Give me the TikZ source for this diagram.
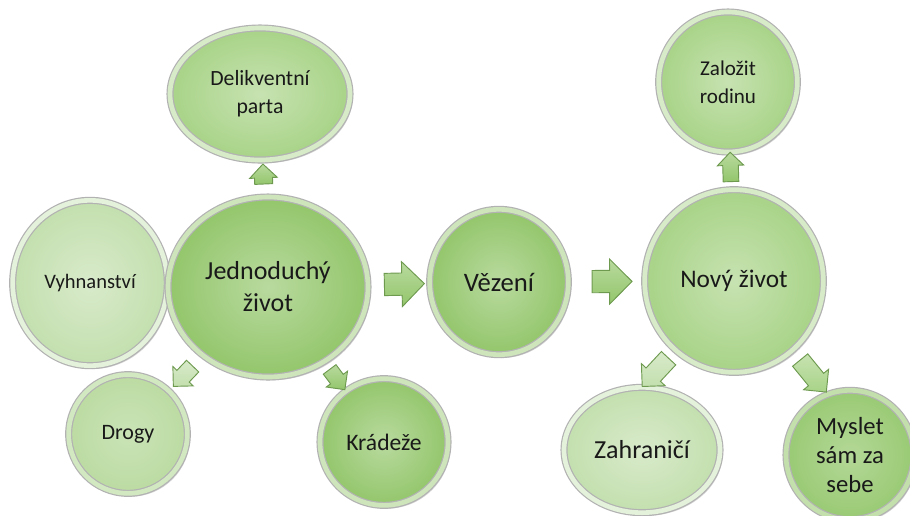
\documentclass[tikz,border=0pt]{standalone}
\usepackage{fontspec}
\setmainfont{Carlito}
\usetikzlibrary{positioning}
\usetikzlibrary{shapes.geometric, shapes.arrows, shadows}

\definecolor{leafrim}{HTML}{6E9A50}
\definecolor{leafmid}{HTML}{93C66B}
\definecolor{leaflight}{HTML}{A8D387}
\definecolor{leafpale}{HTML}{C3DFAE}

\tikzset{
  bubble/.style={ellipse, draw=black!30, line width=0.9pt, double=white!55!#1, double distance=3.5pt,
    inner color=white!35!#1, outer color=#1, text=black!90, align=center, inner sep=0pt,
    drop shadow={shadow xshift=2pt, shadow yshift=-2.5pt, opacity=0.35}},
  blockarrow/.style={single arrow, sloped, allow upside down, draw=leafrim, line width=0.7pt,
    top color=white!35!#1, bottom color=#1, inner xsep=0pt, inner ysep=8pt,
    single arrow head extend=8.5pt, minimum height=30pt}
}

\begin{document}
\begin{tikzpicture}[x=0.75pt, y=-0.75pt]
    \useasboundingbox (0,0) rectangle (910,515);

    % Bubbles (left group)
    \node[bubble=leafpale, minimum width=116pt, minimum height=124pt, font=\fontsize{15.4}{19}\selectfont] (vyh) at (90,283) {Vyhnanství};
    \node[bubble=leafmid, minimum width=150pt, minimum height=135pt, font=\fontsize{19.5}{24}\selectfont] (jed) at (268,287) {Jednoduchý\\život};
    \node[bubble=leaflight, minimum width=135pt, minimum height=99pt, font=\fontsize{16.3}{21}\selectfont] (del) at (260,94) {Delikventní\\parta};
    \node[bubble=leafpale!70!leaflight, minimum width=89pt, minimum height=89pt, font=\fontsize{16.5}{20}\selectfont] (drg) at (128,434) {Drogy};
    \node[bubble=leafmid, minimum width=96pt, minimum height=95pt, font=\fontsize{17.7}{21}\selectfont] (kra) at (384,442) {Krádeže};

    % Bubble (middle)
    \node[bubble=leafmid, minimum width=104pt, minimum height=109pt, font=\fontsize{20}{24}\selectfont] (vez) at (499,282) {Vězení};

    % Bubbles (right group)
    \node[bubble=leaflight, minimum width=134pt, minimum height=137pt, font=\fontsize{19}{23}\selectfont] (nov) at (734,281) {Nový život};
    \node[bubble=leaflight, minimum width=104pt, minimum height=105pt, font=\fontsize{15.8}{21}\selectfont] (zal) at (728,82) {Založit\\rodinu};
    \node[bubble=leafpale, minimum width=117pt, minimum height=94pt, font=\fontsize{19.5}{24}\selectfont] (zah) at (642,450) {Zahraničí};
    \node[bubble=leafmid!70!leaflight, minimum width=96pt, minimum height=97pt, font=\fontsize{18.5}{22}\selectfont] (mys) at (850,455) {Myslet\\sám za\\sebe};

    % Block arrows between bubbles
    \path (jed) -- (vez) node[blockarrow=leafmid, pos=0.5] {};
    \path (vez) -- (nov) node[blockarrow=leafmid, pos=0.5] {};
    \path (jed) -- (del) node[blockarrow=leafmid, pos=0.5, minimum height=15pt, inner ysep=6.4pt, single arrow head extend=3.6pt] {};
    \path (jed) -- (drg) node[blockarrow=leafpale, pos=0.5, minimum height=21pt, inner ysep=6pt, single arrow head extend=4.2pt] {};
    \path (jed) -- (kra) node[blockarrow=leafmid, pos=0.5, minimum height=19pt, inner ysep=5.6pt, single arrow head extend=4pt] {};
    \path (nov) -- (zal) node[blockarrow=leafmid, pos=0.5, minimum height=22pt, inner ysep=5.5pt, single arrow head extend=4pt] {};
    \path (nov.230) -- (zah.north) node[blockarrow=leafpale, pos=0.5, minimum height=29pt, inner ysep=7pt, single arrow head extend=4.8pt] {};
    \path (nov.310) -- (mys.110) node[blockarrow=leaflight, pos=0.5, minimum height=31pt, inner ysep=7pt, single arrow head extend=4.8pt] {};
\end{tikzpicture}
\end{document}
